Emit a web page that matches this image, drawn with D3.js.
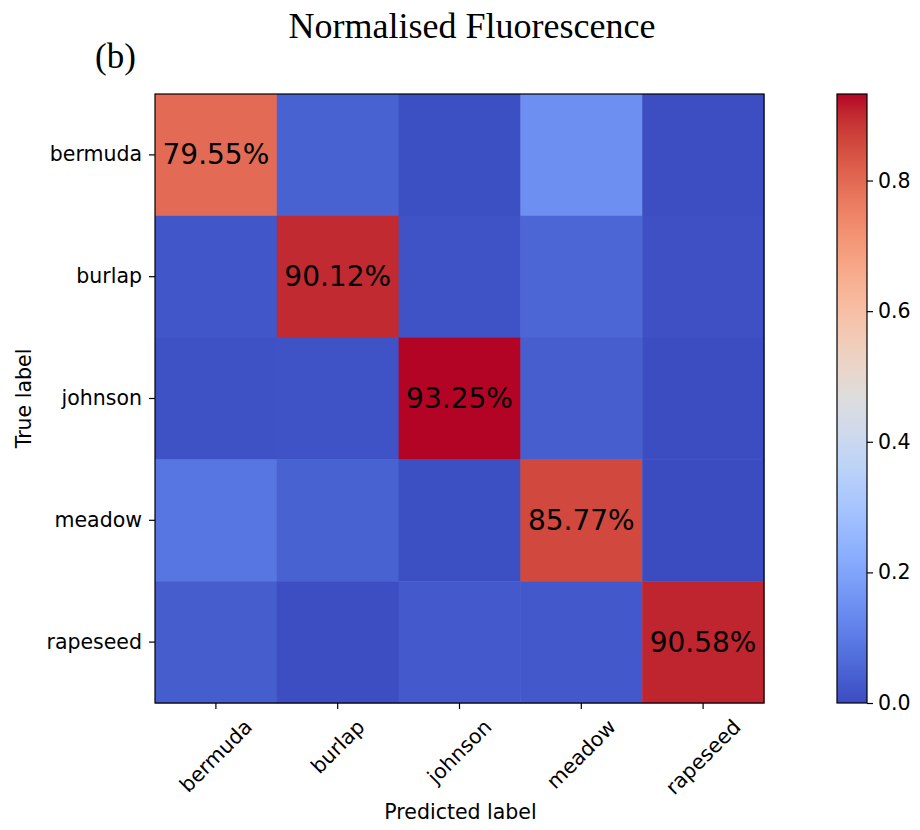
<!DOCTYPE html>
<html>
<head>
<meta charset="utf-8">
<script src="https://cdn.jsdelivr.net/npm/d3@7"></script>
<style>
  body { margin: 0; background: #fff; }
  text { font-family: "DejaVu Sans", sans-serif; }
</style>
</head>
<body>
<div id="chart"></div>
<script>
// Class labels (rows = true, columns = predicted)
const classes = ["bermuda", "burlap", "johnson", "meadow", "rapeseed"];

// Normalised confusion matrix, one array per true label
const bermudaRow  = [0.7955, 0.045, 0.008, 0.148, 0.0035];
const burlapRow   = [0.020, 0.9012, 0.015, 0.055, 0.0088];
const johnsonRow  = [0.012, 0.015, 0.9325, 0.038, 0.0025];
const meadowRow   = [0.090, 0.045, 0.0073, 0.8577, 0.0];
const rapeseedRow = [0.035, 0.005, 0.028, 0.0262, 0.9058];
const matrix = [bermudaRow, burlapRow, johnsonRow, meadowRow, rapeseedRow];

const colorbarTicks = [0.0, 0.2, 0.4, 0.6, 0.8];

// matplotlib "coolwarm" (Moreland) control points
const coolwarm = [
  [59,76,192],[68,90,204],[77,104,215],[87,117,225],[98,130,234],[108,142,241],
  [119,154,247],[130,165,251],[141,176,254],[152,185,255],[163,194,255],[174,201,253],
  [184,208,249],[194,213,244],[204,217,238],[213,219,230],[221,221,221],[229,216,209],
  [236,211,197],[241,204,184],[245,196,172],[247,187,160],[247,177,148],[247,166,135],
  [244,154,123],[241,141,111],[236,127,99],[229,112,88],[222,96,77],[213,80,66],
  [203,62,56],[192,40,47],[180,4,38]
].map(c => d3.rgb(c[0], c[1], c[2]));
const cmap = d3.scaleLinear()
  .domain(d3.range(coolwarm.length).map(i => i / (coolwarm.length - 1)))
  .range(coolwarm)
  .interpolate(d3.interpolateRgb)
  .clamp(true);

const vmax = d3.max(matrix, r => d3.max(r));
const norm = d3.scaleLinear().domain([0, vmax]).range([0, 1]);

const W = 920, H = 830;
const fs = "20.5px";
const svg = d3.select("#chart").append("svg")
  .attr("width", W).attr("height", H);

const plotLeft = 155, plotTop = 94, size = 609;
const x = d3.scaleBand().domain(classes).range([plotLeft, plotLeft + size]);
const y = d3.scaleBand().domain(classes).range([plotTop, plotTop + size]);

// Title and panel letter
svg.append("text")
  .attr("x", 472).attr("y", 38)
  .attr("text-anchor", "middle")
  .style("font-family", "'Liberation Serif', 'Times New Roman', serif")
  .style("font-size", "36px")
  .text("Normalised Fluorescence");
svg.append("text")
  .attr("x", 95).attr("y", 68)
  .style("font-family", "'Liberation Serif', 'Times New Roman', serif")
  .style("font-size", "35px")
  .text("(b)");

// Cells
const cells = [];
matrix.forEach((row, i) => row.forEach((v, j) => cells.push({ t: classes[i], p: classes[j], v })));

svg.append("g").selectAll("rect")
  .data(cells).enter().append("rect")
  .attr("x", d => x(d.p))
  .attr("y", d => y(d.t))
  .attr("width", x.bandwidth() + 0.5)
  .attr("height", y.bandwidth() + 0.5)
  .attr("fill", d => cmap(norm(d.v)));

// Diagonal percentages
svg.append("g").selectAll("text")
  .data(cells.filter(d => d.t === d.p)).enter().append("text")
  .attr("x", d => x(d.p) + x.bandwidth() / 2)
  .attr("y", d => y(d.t) + y.bandwidth() / 2)
  .attr("text-anchor", "middle")
  .attr("dominant-baseline", "central")
  .style("font-size", "28px")
  .text(d => (d.v * 100).toFixed(2) + "%");

// Frame
svg.append("rect")
  .attr("x", plotLeft).attr("y", plotTop).attr("width", size).attr("height", size)
  .attr("fill", "none").attr("stroke", "#000").attr("stroke-width", 1.2);

// Y axis
const yAxis = svg.append("g")
  .attr("transform", `translate(${plotLeft},0)`)
  .call(d3.axisLeft(y).tickSize(6).tickPadding(7));
yAxis.select(".domain").remove();
yAxis.selectAll("text").style("font-size", fs).attr("fill", "#000");
yAxis.selectAll("line").attr("stroke", "#000").attr("stroke-width", 1.2);

// X axis
const xAxis = svg.append("g")
  .attr("transform", `translate(0,${plotTop + size})`)
  .call(d3.axisBottom(x).tickSize(6).tickPadding(6));
xAxis.select(".domain").remove();
xAxis.selectAll("line").attr("stroke", "#000").attr("stroke-width", 1.2);
xAxis.selectAll("text")
  .style("font-size", fs)
  .attr("fill", "#000")
  .attr("dy", null)
  .attr("dominant-baseline", "central")
  .attr("text-anchor", "middle")
  .each(function () {
    const L = this.getComputedTextLength();
    const h = 20.5;
    const cy = 13 + (L + h) / (2 * Math.SQRT2);
    d3.select(this).attr("y", 0).attr("transform", `translate(0,${cy}) rotate(-45)`);
  });

svg.append("text")
  .attr("x", plotLeft + size / 2 + 1).attr("y", 819)
  .attr("text-anchor", "middle")
  .style("font-size", fs)
  .text("Predicted label");
svg.append("text")
  .attr("transform", `translate(31,${plotTop + size / 2}) rotate(-90)`)
  .attr("text-anchor", "middle")
  .style("font-size", fs)
  .text("True label");

// Colorbar
const cbX = 837, cbW = 30;
const cbScale = d3.scaleLinear().domain([0, vmax]).range([plotTop + size, plotTop]);
const grad = svg.append("defs").append("linearGradient")
  .attr("id", "cbgrad").attr("x1", 0).attr("y1", 1).attr("x2", 0).attr("y2", 0);
grad.selectAll("stop")
  .data(d3.range(0, 1.0001, 1 / 64)).enter().append("stop")
  .attr("offset", d => d)
  .attr("stop-color", d => cmap(d));
svg.append("rect")
  .attr("x", cbX).attr("y", plotTop).attr("width", cbW).attr("height", size)
  .attr("fill", "url(#cbgrad)")
  .attr("stroke", "#000").attr("stroke-width", 1.2);

const cAxis = svg.append("g")
  .attr("transform", `translate(${cbX + cbW},0)`)
  .call(d3.axisRight(cbScale).tickValues(colorbarTicks).tickFormat(d3.format(".1f")).tickSize(6).tickPadding(5));
cAxis.select(".domain").remove();
cAxis.selectAll("text").style("font-size", fs).attr("fill", "#000");
cAxis.selectAll("line").attr("stroke", "#000").attr("stroke-width", 1.2);
</script>
</body>
</html>
